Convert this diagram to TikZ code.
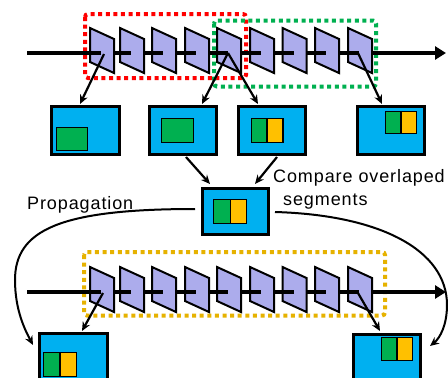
\documentclass[tikz,border=0pt]{standalone}
\usepackage{fontspec}
\setmainfont[LetterSpace=5]{Liberation Sans}
\usetikzlibrary{arrows.meta}
\definecolor{boxblue}{RGB}{0,176,240}
\definecolor{okgreen}{RGB}{0,176,80}
\definecolor{okyellow}{RGB}{255,192,0}
\definecolor{lav}{RGB}{172,172,236}
\definecolor{goldline}{RGB}{230,178,0}
\definecolor{redline}{RGB}{255,0,0}
\newcommand\drawblk[2]{%
  \filldraw[fill=lav,draw=black,line width=2pt,line join=miter]
    (#1,#2-25) -- (#1+24,#2-14) -- (#1+24,#2+20) -- (#1,#2+9) -- cycle;
  \draw[line width=4.2pt] (#1-2,#2) -- (#1+11,#2);}
\newcommand\twopatch[5]{% x y w1 w2 h
  \filldraw[fill=okgreen,draw=black,line width=1.3pt] (#1,#2) rectangle ++(#3,#5);
  \filldraw[fill=okyellow,draw=black,line width=1.3pt] (#1+#3,#2) rectangle ++(#4,#5);}
\begin{document}
\begin{tikzpicture}[x=1pt,y=-1pt,
  frame/.style={draw=black,line width=3pt,fill=boxblue,minimum width=68pt,minimum height=48pt,inner sep=0pt},
  dotbox/.style={line width=4pt,dash pattern=on 4pt off 3.6pt,rounded corners=3pt},
  conn/.style={-{Stealth[length=9pt,width=8pt]},line width=2.2pt},
  curvearrow/.style={-{Stealth[length=9pt,width=8pt]},line width=2pt},
  mainline/.style={line width=4.2pt,-{Triangle[length=11pt,width=13pt]}},
  lbl/.style={anchor=base west,inner sep=0pt,font=\fontsize{18}{20}\selectfont}]
\useasboundingbox (0,0) rectangle (448,378);
\clip (0,0) rectangle (448,378);
% dotted groups
\draw[dotbox,draw=redline] (85,14) rectangle (246,78);
\draw[dotbox,draw=okgreen] (214,20.5) rectangle (376,86.5);
\draw[dotbox,draw=goldline] (84,252) rectangle (385,315.5);
% top chain
\coordinate (in1) at (27,53);
\coordinate (out1) at (446,53);
\draw[mainline] (in1) -- (out1);
\foreach \x in {90,120,152,185,217,250,282.5,315,348} {\drawblk{\x}{53}}
% bottom chain
\coordinate (in2) at (27,292);
\coordinate (out2) at (446,292);
\draw[mainline] (in2) -- (out2);
\foreach \x in {90,120,152,185,217,250,282.5,315,348} {\drawblk{\x}{292}}
% boxes
\node[frame] (b1) at (85.5,130.5) {};
\node[frame,minimum width=67pt] (b2) at (183,130.5) {};
\node[frame,minimum width=67pt] (b3) at (272,130.5) {};
\node[frame,minimum width=67pt] (b4) at (391,130.5) {};
\node[frame,minimum width=66pt,minimum height=46pt] (bc) at (235.5,211.5) {};
\node[frame] (bl) at (73.5,357.5) {};
\node[frame,minimum width=67pt] (br) at (387,358.5) {};
% patches
\filldraw[fill=okgreen,draw=black,line width=1.3pt] (56.6,127.6) rectangle (87.4,150.4);
\filldraw[fill=okgreen,draw=black,line width=1.3pt] (161.6,118.6) rectangle (193.4,142.4);
\twopatch{251.6}{118.6}{15.5}{16}{24}
\twopatch{385.6}{111.6}{15.5}{15.5}{22}
\twopatch{213.6}{199.6}{17}{16}{24}
\twopatch{43.6}{352.6}{16.5}{16.5}{24}
\twopatch{381.6}{337.6}{15.5}{15.5}{23}
% arrows from chain to boxes
\coordinate (k1) at (104,54);
\coordinate (k5) at (228,53);
\coordinate (k9) at (358,53);
\coordinate (t1) at (80,104);
\coordinate (t2) at (202,104);
\coordinate (t3) at (258,104);
\coordinate (t4) at (382,104);
\draw[conn] (k1) -- (t1);
\draw[conn] (k5) -- (t2);
\draw[conn] (k5) -- (t3);
\draw[conn] (k9) -- (t4);
\coordinate (m1) at (103,293);
\coordinate (m9) at (358,293);
\coordinate (u1) at (82,331);
\coordinate (u9) at (380,331);
\draw[conn] (m1) -- (u1);
\draw[conn] (m9) -- (u9);
% to center
\coordinate (s2) at (186,157);
\coordinate (s3) at (277,157);
\coordinate (c2) at (210,184);
\coordinate (c3) at (255,184);
\draw[conn] (s2) -- (c2);
\draw[conn] (s3) -- (c3);
% propagation curves
\coordinate (pl) at (195,209);
\coordinate (pr) at (275,212);
\coordinate (el) at (33,345);
\coordinate (er) at (430,346);
\draw[curvearrow] (pl) .. controls (60,209) and (15,230) .. (15,280) .. controls (15,310) and (25,330) .. (el);
\draw[curvearrow] (pr) .. controls (380,215) and (447,250) .. (447,305) .. controls (447,325) and (440,338) .. (er);
% labels
\node[lbl] (tcmp) at (273,182) {Compare overlaped};
\node[lbl] (tseg) at (283,205) {segments};
\node[lbl] (tprop) at (27,209) {Propagation};
\end{tikzpicture}
\end{document}
